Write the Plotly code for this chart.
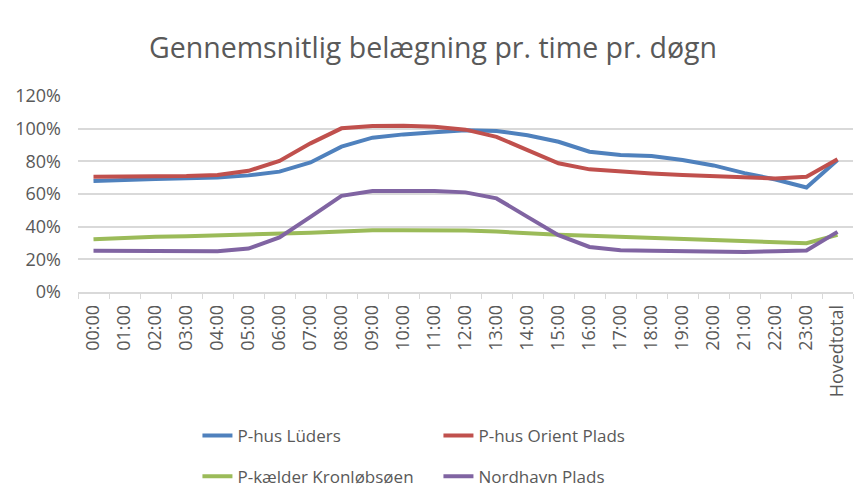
import plotly.graph_objects as go

categories = ["00:00", "01:00", "02:00", "03:00", "04:00", "05:00", "06:00", "07:00",
              "08:00", "09:00", "10:00", "11:00", "12:00", "13:00", "14:00", "15:00",
              "16:00", "17:00", "18:00", "19:00", "20:00", "21:00", "22:00", "23:00",
              "Hovedtotal"]

luders = [67.9, 68.7, 69.2, 69.6, 70.1, 71.4, 73.7, 79.3, 89.0, 94.5, 96.5, 97.8,
          99.0, 98.6, 96.0, 92.0, 85.9, 83.9, 83.3, 80.8, 77.5, 72.8, 68.9, 64.0, 80.8]
orient = [70.6, 70.6, 70.8, 71.0, 71.6, 74.2, 80.2, 91.0, 100.2, 101.6, 101.8, 101.2,
          99.4, 95.0, 86.9, 78.8, 75.1, 73.6, 72.6, 71.6, 71.0, 70.2, 69.5, 70.6, 81.2]
kronlob = [32.3, 33.3, 33.8, 34.2, 34.6, 35.0, 35.4, 36.2, 37.0, 37.8, 37.8, 37.8,
           37.6, 37.0, 35.8, 35.0, 34.4, 33.8, 33.3, 32.5, 31.7, 30.9, 30.5, 29.9, 35.0]
nordhavn = [25.2, 25.2, 25.2, 25.4, 25.0, 26.6, 33.4, 46.0, 58.9, 61.8, 61.8, 61.8,
            61.0, 57.3, 46.0, 34.8, 27.6, 25.6, 25.2, 25.0, 25.0, 24.5, 25.0, 25.4, 36.8]

series_names = ["P-hus Lüders", "P-hus Orient Plads", "P-kælder Kronløbsøen", "Nordhavn Plads"]
series_values = [luders, orient, kronlob, nordhavn]
colors = ["#4F81BD", "#C0504D", "#9BBB59", "#8064A2"]
legends = ["legend", "legend", "legend2", "legend2"]

ytick_vals = [0, 20, 40, 60, 80, 100, 120]
ytick_text = ["0%", "20%", "40%", "60%", "80%", "100%", "120%"]

fig = go.Figure()
for name, vals, col, lg in zip(series_names, series_values, colors, legends):
    fig.add_trace(go.Scatter(x=categories, y=vals, mode="lines", name=name,
                             line=dict(color=col, width=4), legend=lg))

font_family = "Open Sans, Liberation Sans, sans-serif"
grey = "#595959"

legend_common = dict(orientation="h", xref="container", yref="container",
                     x=0.228, xanchor="left", yanchor="top",
                     entrywidth=196, entrywidthmode="pixels",
                     font=dict(size=17, color=grey), bgcolor="rgba(0,0,0,0)")

fig.update_layout(
    width=866, height=491,
    margin=dict(l=78, r=13, t=96, b=199, autoexpand=False),
    paper_bgcolor="white", plot_bgcolor="white",
    title=dict(text="Gennemsnitlig belægning pr. time pr. døgn",
               x=0.5, xanchor="center", y=0.902, yanchor="middle",
               font=dict(family=font_family, size=28.5, color=grey)),
    font=dict(family=font_family, color=grey),
    showlegend=True,
    legend=dict(y=0.149, **legend_common),
    legend2=dict(y=0.066, **legend_common),
)

fig.update_xaxes(type="category", range=[-0.5, len(categories) - 0.5], tickangle=-90,
                 tickfont=dict(size=18, color=grey),
                 showgrid=False, showline=True, linecolor="#D9D9D9", linewidth=1.5,
                 ticks="outside", tickson="boundaries", ticklen=5, tickcolor="#D9D9D9",
                 ticklabelstandoff=4, automargin=False)
fig.update_yaxes(range=[0, 120], tickvals=ytick_vals, ticktext=ytick_text,
                 tickfont=dict(size=18, color=grey), showgrid=True,
                 gridcolor="#D9D9D9", gridwidth=1.5, zeroline=False, showline=False,
                 ticks="", ticklabelstandoff=16, automargin=False)

fig.write_html("out.html", config={"displayModeBar": False},
               post_script="document.body.style.margin='0';")
